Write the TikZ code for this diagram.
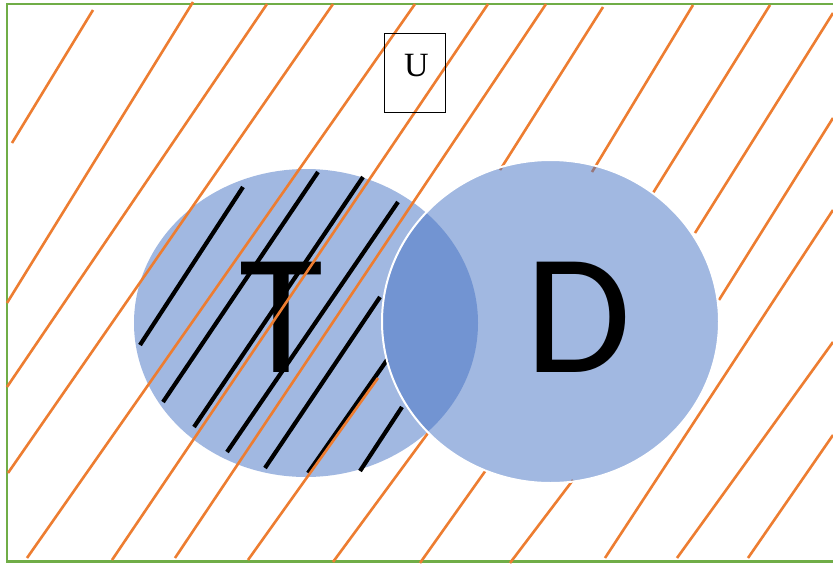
\documentclass[tikz,border=0pt]{standalone}
\usepackage{fontspec}
\newfontfamily\labelfont{Carlito}
\newfontfamily\boxfont{Liberation Serif}
\definecolor{setblue}{HTML}{4472C4}
\definecolor{hatchorange}{HTML}{ED7D31}
\definecolor{framegreen}{HTML}{70AD47}

\begin{document}
\begin{tikzpicture}[x=1pt,y=-1pt,
  setshape/.style={fill=setblue, fill opacity=0.5},
  outerhatch/.style={draw=hatchorange, line width=2.6pt},
  innerhatch/.style={draw=black, line width=4.2pt},
  biglabel/.style={font=\labelfont\fontsize{172}{172}\selectfont, inner sep=0pt, anchor=base},
  universe/.style={draw=black, line width=1.8pt, minimum width=61pt, minimum height=79pt, inner sep=0pt}]
\useasboundingbox (0,0) rectangle (833,563);
\fill[white] (0,0) rectangle (833,563);

% frame of the universe
\draw[framegreen, line width=2.8pt] (833,4) -- (7,4) -- (7,561.5) -- (833,561.5);

% set T
\fill[setshape] (306,323) ellipse [x radius=172pt, y radius=154pt];
\node[biglabel] (labT) at (281,372) {T};

% hatching of T
\foreach \xa/\ya/\xb/\yb in {243/187/140/345, 318/172/163/402, 363/177/194/427,
    398/202/227/452, 380/297/265/468, 387/360/308/473, 402/407/360/471}
  \draw[innerhatch] (\xa,\ya) -- (\xb,\yb);

% hatching of the complement of D
\foreach \xa/\ya/\xb/\yb in {93/10/12/143, 193/2/7/303, 267/4/7/387, 333/4/8/473,
    415/4/27/558, 488/4/112/560, 546/4/175/558, 603/7/500/170, 693/5/592/172,
    770/5/653/193, 833/13/695/233, 833/118/719/300, 833/210/605/558,
    833/342/677/558, 833/435/748/558, 486/470/420/563, 573/480/510/563,
    378/378/248/560, 428/433/333/562}
  \draw[outerhatch] (\xa,\ya) -- (\xb,\yb);

% universe label
\node[universe] (ubox) at (415,73) {};
\node[font=\boxfont\fontsize{34}{34}\selectfont, inner sep=0pt, anchor=base] (labU) at (416.5,76.5) {U};

% set D
\path[setshape, draw=white, draw opacity=1, line width=2pt] (550.5,321.5) ellipse [x radius=168.5pt, y radius=161.5pt];
\node[biglabel] (labD) at (578,372) {D};
\end{tikzpicture}
\end{document}
